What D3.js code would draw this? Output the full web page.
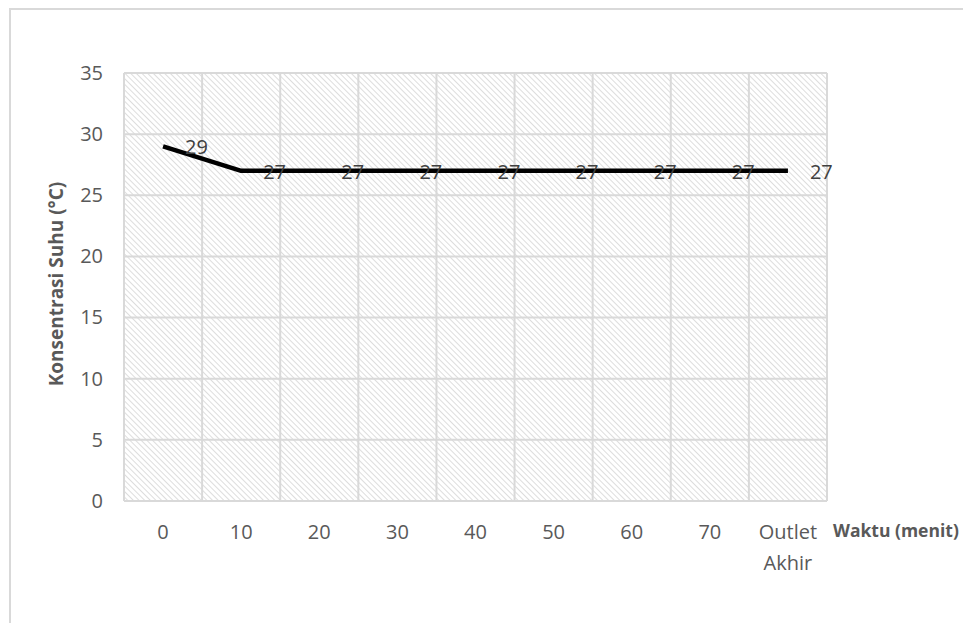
<!DOCTYPE html>
<html>
<head>
<meta charset="utf-8">
<script src="https://cdn.jsdelivr.net/npm/d3@7/dist/d3.min.js"></script>
<style>
  html, body { margin: 0; padding: 0; background: #fff; }
  svg { display: block; }
</style>
</head>
<body>
<svg id="chart" width="963" height="623"></svg>
<script>
// Temperature over time
const categories = ["0", "10", "20", "30", "40", "50", "60", "70", "Outlet Akhir"];
const suhu = [29, 27, 27, 27, 27, 27, 27, 27, 27];
const yTicks = [0, 5, 10, 15, 20, 25, 30, 35];
const yTitle = "Konsentrasi Suhu (°C)";
const xTitle = "Waktu (menit)";

const svg = d3.select("#chart");
const font = "'Open Sans', 'Noto Sans', sans-serif";

const plot = { left: 124, right: 827, top: 73, bottom: 501 };

// outer chart frame
svg.append("rect")
  .attr("x", 10).attr("y", 9)
  .attr("width", 1000).attr("height", 1000)
  .attr("fill", "#fff")
  .attr("stroke", "#d9d9d9").attr("stroke-width", 2);

// diagonal hatch fill for the plot area
const defs = svg.append("defs");
const pat = defs.append("pattern")
  .attr("id", "hatch")
  .attr("patternUnits", "userSpaceOnUse")
  .attr("width", 4).attr("height", 4)
  .attr("patternTransform", "rotate(-45)");
pat.append("rect").attr("width", 4).attr("height", 4).attr("fill", "#fff");
pat.append("line")
  .attr("x1", 0).attr("y1", 0).attr("x2", 0).attr("y2", 4)
  .attr("stroke", "#cfcfcf").attr("stroke-width", 1.4);

const x = d3.scaleBand().domain(categories).range([plot.left, plot.right]).padding(0);
const y = d3.scaleLinear().domain([0, 35]).range([plot.bottom, plot.top]);

svg.append("rect")
  .attr("x", plot.left).attr("y", plot.top)
  .attr("width", plot.right - plot.left).attr("height", plot.bottom - plot.top)
  .attr("fill", "url(#hatch)");

// gridlines
const grid = svg.append("g").attr("stroke", "#d9d9d9").attr("stroke-width", 2);
grid.selectAll("line.h").data(yTicks).join("line")
  .attr("class", "h")
  .attr("x1", plot.left).attr("x2", plot.right)
  .attr("y1", d => y(d)).attr("y2", d => y(d));
const bounds = categories.map(c => x(c)).concat([x(categories[categories.length - 1]) + x.bandwidth()]);
grid.selectAll("line.v").data(bounds).join("line")
  .attr("class", "v")
  .attr("x1", d => d).attr("x2", d => d)
  .attr("y1", plot.top).attr("y2", plot.bottom);

// y axis labels
const yAxis = svg.append("g")
  .attr("transform", `translate(${plot.left - 21},0)`)
  .call(d3.axisLeft(y).tickValues(yTicks).tickSize(0).tickPadding(0));
yAxis.select(".domain").remove();
yAxis.selectAll("text")
  .attr("fill", "#595959")
  .style("font-family", font).style("font-size", "20px");

// x axis labels
const xAxis = svg.append("g")
  .attr("transform", `translate(0,${plot.bottom})`)
  .call(d3.axisBottom(x).tickSize(0).tickPadding(0));
xAxis.select(".domain").remove();
xAxis.selectAll("text").each(function(d) {
  const t = d3.select(this).text("").attr("dy", null);
  const parts = d.split(" ");
  parts.forEach((p, i) => {
    t.append("tspan").attr("x", 0).attr("y", 38 + i * 31).text(p);
  });
}).attr("fill", "#595959")
  .style("font-family", font).style("font-size", "20px");

// axis titles
svg.append("text")
  .attr("transform", `translate(63,${(plot.top + plot.bottom) / 2 - 3}) rotate(-90)`)
  .attr("text-anchor", "middle")
  .attr("fill", "#595959")
  .style("font-family", font).style("font-size", "19px").style("font-weight", "bold")
  .text(yTitle);

svg.append("text")
  .attr("x", 833).attr("y", 537)
  .attr("fill", "#595959")
  .style("font-family", font).style("font-size", "17.5px").style("font-weight", "bold")
  .text(xTitle);

// series line
const cx = c => x(c) + x.bandwidth() / 2;
const line = d3.line().x((d, i) => cx(categories[i])).y(d => y(d));
svg.append("path")
  .datum(suhu)
  .attr("d", line)
  .attr("fill", "none")
  .attr("stroke", "#000")
  .attr("stroke-width", 4.5)
  .attr("stroke-linejoin", "round");

// value labels
svg.append("g").selectAll("text").data(suhu).join("text")
  .attr("x", (d, i) => cx(categories[i]) + 22)
  .attr("y", d => y(d) + 8)
  .attr("fill", "#404040")
  .style("font-family", font).style("font-size", "20px")
  .text(d => d);
</script>
</body>
</html>
